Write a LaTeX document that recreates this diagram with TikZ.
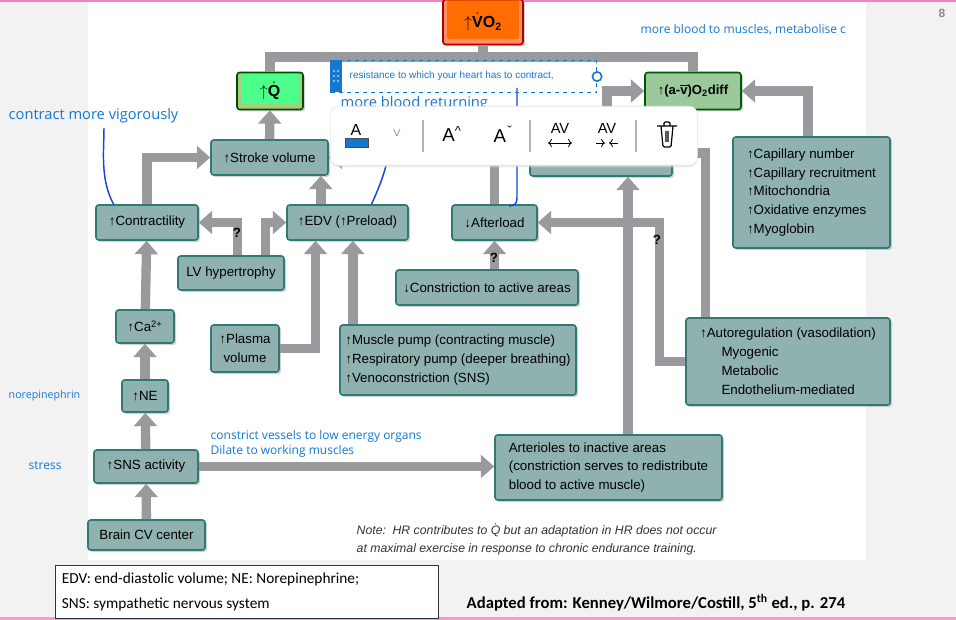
\documentclass[tikz,border=0pt]{standalone}
\usepackage{fontspec}
\setmainfont{Liberation Sans}
\newfontfamily\anno{Open Sans}
\newfontfamily\calib{Carlito}
\usetikzlibrary{arrows.meta,positioning,shadows}

\definecolor{boxfill}{HTML}{8FB1B0}
\definecolor{boxline}{HTML}{2F7A72}
\definecolor{arrgray}{HTML}{9A9A9E}
\definecolor{annoblue}{HTML}{1478D2}
\definecolor{penblue}{HTML}{1844E0}

\tikzset{
  wh/.style 2 args={minimum width=#1*0.75pt, minimum height=#2*0.75pt},
  box/.style={draw=boxline, line width=1.2pt, fill=boxfill, rounded corners=2pt,
    inner sep=2pt, align=left, font=\fontsize{10}{14.2}\selectfont,
    drop shadow={shadow xshift=1.5pt, shadow yshift=-1.5pt, fill=black!35}},
  framed/.style 2 args={fill=#1, path picture={\fill[#2]
    ([shift={(3pt,0pt)}]path picture bounding box.north west) rectangle
    ([shift={(-3pt,4pt)}]path picture bounding box.south east);}},
  garr/.style={draw=arrgray, line width=7pt, -{Triangle[width=17pt,length=10pt]}},
  gline/.style={draw=arrgray, line width=7pt},
  quest/.style={font=\bfseries\fontsize{10}{12}\selectfont},
  note/.style={text=annoblue, font=\anno\fontsize{9}{11}\selectfont, anchor=west, align=left},
  pen/.style={draw=penblue, line width=1.1pt},
}

\begin{document}
\begin{tikzpicture}[x=0.75pt,y=-0.75pt]
\useasboundingbox (0,0) rectangle (956,620);
% slide background
\fill[black!5] (0,0) rectangle (956,620);
\fill[white] (88,0) rectangle (866,560);
\fill[magenta!50] (0,0) rectangle (956,2);
\fill[magenta!40] (0,617) rectangle (956,620);
\node[text=black!45, font=\fontsize{9}{10}\selectfont\bfseries] (page) at (942,13) {8};

% boxes
\node[box, wh={80}{45}, draw=red!70!black, framed={red!45!orange!60}{orange!85!red},
  font=\bfseries\fontsize{12}{13}\selectfont, align=center] (vo2) at (483,22)
  {$\uparrow$$\dot{\mbox{V}}$O\textsubscript{2}};
\node[box, wh={66}{37}, draw=green!30!black, framed={olive!45!green!50}{green!65!cyan!70},
  font=\bfseries\fontsize{12}{13}\selectfont, align=center] (q) at (270,91)
  {$\uparrow$$\dot{\mbox{Q}}$};
\node[box, wh={96}{37}, draw=green!35!black, fill=green!30!gray!60, font=\bfseries\fontsize{9.8}{12}\selectfont,
  align=center] (avd) at (693,91) {↑(a-$\overline{\mbox{v}}$)O\textsubscript{2}diff};
\node[box, wh={117}{35}] (sv) at (269.5,157.5) {↑Stroke volume};
\node[box, wh={102}{35}] (contr) at (147,222.5) {↑Contractility};
\node[box, wh={121}{35}] (edv) at (347.5,222.5) {↑EDV (↑Preload)};
\node[box, wh={85}{35}] (after) at (494.5,222.5) {↓Afterload};
\node[box, wh={106}{34}] (lvh) at (231,273) {LV hypertrophy};
\node[box, wh={182}{35}] (constr) at (487,287.5) {↓Constriction to active areas};
\node[box, wh={58}{33}] (ca) at (145,326.5) {↑Ca\textsuperscript{2+}};
\node[box, wh={68}{47}, align=center] (plasma) at (245,348.5) {↑Plasma\\volume};
\node[box, wh={236}{70}] (pump) at (458,360)
  {↑Muscle pump (contracting muscle)\\↑Respiratory pump (deeper breathing)\\↑Venoconstriction (SNS)};
\node[box, wh={46}{32}] (ne) at (145,396) {↑NE};
\node[box, wh={104}{33}] (sns) at (146,466.5) {↑SNS activity};
\node[box, wh={117}{30}] (brain) at (146.5,535) {Brain CV center};
\node[box, wh={227}{65}] (artr) at (608.5,467.5)
  {Arterioles to inactive areas\\(constriction serves to redistribute\\blood to active muscle)};
\node[box, wh={142}{46}] (mbf) at (601,153) {};
\node[box, wh={157}{111}] (cap) at (811.5,192.5)
  {↑Capillary number\\↑Capillary recruitment\\↑Mitochondria\\↑Oxidative enzymes\\↑Myoglobin};
\node[box, wh={204}{87}] (auto) at (788,361.5)
  {↑Autoregulation (vasodilation)\\\hspace*{1.6em}Myogenic\\\hspace*{1.6em}Metabolic\\\hspace*{1.6em}Endothelium-mediated};

% connectors
\coordinate (bar) at (483,57);
\draw[gline] (q.north) |- (bar) -| (avd.north);
\draw[gline] (vo2.south) -- (bar);
\draw[garr] (sv) -- (q);
\draw[garr] (contr.north) |- (sv.west);
\draw[garr] ([xshift=-20pt]edv.north) -- ([xshift=-20pt]edv.north |- sv.south);
\draw[garr] ([xshift=5pt]lvh.north) |- (contr.east);
\draw[garr] ([xshift=26pt]lvh.north) |- (edv.west);
\draw[garr] (ca) -- (contr);
\draw[garr] (ne) -- (ca);
\draw[garr] (sns) -- (ne);
\draw[garr] (brain) -- (sns);
\draw[garr] (sns) -- (sns -| artr.west);
\draw[garr] (plasma.east) -| ([xshift=-24pt]edv.south);
\draw[garr] ([xshift=4pt]edv.south |- pump.north) -- ([xshift=4pt]edv.south);
\draw[garr] (after.south |- constr.north) -- (after.south);
\draw[garr] (after.north) |- (sv.east);
\draw[garr] ([xshift=4.5pt]mbf.north) |- (avd.west);
\draw[garr] ([xshift=14.6pt]artr.north) -- ([xshift=14.6pt]artr.north |- mbf.south);
\draw[garr] ([xshift=-62pt]auto.north) |- (mbf.east);
\draw[garr] (auto.west) -- ++(-26,0) |- (after.east);
\draw[garr] ([xshift=-2.6pt]cap.north) |- (avd.east);
\node[quest] (q1) at (237,233) {?};
\node[quest] (q2) at (494,258) {?};
\node[quest] (q3) at (657,240) {?};

% note and footer
\node[anchor=west, align=left, text=black!80, font=\itshape\fontsize{9.2}{13.5}\selectfont] (hrnote) at (352,539)
  {Note:\, HR contributes to $\dot{\mbox{Q}}$ but an adaptation in HR does not occur\\at maximal exercise in response to chronic endurance training.};
\node[draw=black!80, fill=white, anchor=north west, align=flush left, inner sep=5pt, text width=277pt,
  minimum height=40pt, font=\calib\fontsize{11.5}{19}\selectfont] (abbr) at (55,565)
  {EDV: end-diastolic volume; NE: Norepinephrine;\\SNS: sympathetic nervous system};
\node[anchor=west, font=\calib\bfseries\fontsize{12.5}{14}\selectfont] (src) at (462,603)
  {Adapted from: Kenney/Wilmore/Costill, 5\textsuperscript{th} ed., p. 274};

% handwritten notes
\node[note, font=\anno\fontsize{11}{13}\selectfont] (vig) at (4,116) {contract more vigorously};
\node[note] (musc) at (636,30) {more blood to muscles, metabolise c};
\node[note, font=\anno\fontsize{8}{10}\selectfont] (nor) at (4,396) {norepinephrin};
\node[note] (str) at (24,466) {stress};
\node[note] (cvd) at (206,444) {constrict vessels to low energy organs\\Dilate to working muscles};
\node[note, font=\anno\fontsize{11}{13}\selectfont] (ret) at (336,104) {more blood returning};
\draw[pen] ([xshift=-25pt]contr.north) .. controls (100,180) and (104,150) .. (vig.south -| 104,0);
\draw[pen] ([xshift=18pt]edv.north) .. controls (378,190) and (384,175) .. (386,165);
\draw[pen] (517,88) -- (517,198) .. controls (517,204) and (514,206) .. (509,206);

% text box being edited
\node[draw=annoblue, dashed, line width=0.8pt, anchor=north west, wh={266}{32}, inner sep=0pt] (tbox) at (330,60) {};
\fill[annoblue] (tbox.north west) rectangle ++(12,32);
\foreach \yy in {71,76,81} {
  \fill[white] (334,\yy) circle (0.7pt);
  \fill[white] (338,\yy) circle (0.7pt);
}
\node[anchor=west, text=annoblue, font=\fontsize{7.5}{9}\selectfont] (tboxtext) at (345,76)
  {resistance to which your heart has to contract,};
\draw[annoblue, line width=1.2pt, fill=white] (tbox.east) circle (3.5pt);

% floating toolbar
\node[draw=black!10, fill=white, rounded corners=6pt, anchor=north west, wh={367}{59},
  drop shadow={shadow xshift=0pt, shadow yshift=-1.5pt, fill=black!15}] (bar2) at (330,106) {};
\node[font=\fontsize{12}{12}\selectfont] (fcol) at (356,130) {A};
\fill[annoblue, draw=black!70] (345,138) rectangle (368,147);
\node[font=\fontsize{9}{9}\selectfont, text=black!70] (chev) at (397,133) {$\vee$};
\draw[black!30, line width=1pt] (423,120) -- (423,152);
\node[font=\fontsize{14}{14}\selectfont] (grow) at (452,134) {A\textsuperscript{\^{}}};
\node[font=\fontsize{14}{14}\selectfont] (shrink) at (502,134) {A\textsuperscript{\v{}}};
\draw[black!30, line width=1pt] (530,120) -- (530,152);
\node[font=\fontsize{11}{11}\selectfont] (wide) at (560,128) {AV};
\draw[<->, line width=0.6pt] (548,143) -- (572,143);
\node[font=\fontsize{11}{11}\selectfont] (narr) at (607,128) {AV};
\draw[->, line width=0.6pt] (596,143) -- (605,143);
\draw[->, line width=0.6pt] (618,143) -- (609,143);
\draw[black!30, line width=1pt] (636,120) -- (636,152);
\draw[line width=0.9pt, rounded corners=1pt] (657,126) -- (677,126)
  (661,126) -- (663,147) -- (671,147) -- (673,126)
  (664,126) -- (664,122) -- (670,122) -- (670,126) (666,131) -- (666,142) (668,131) -- (668,142);
\end{tikzpicture}
\end{document}
